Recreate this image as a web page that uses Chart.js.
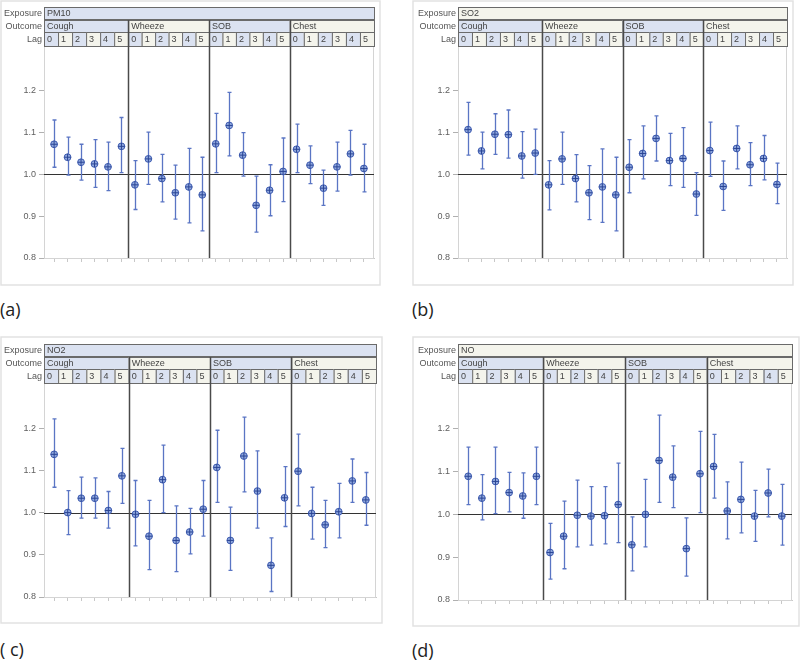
<!DOCTYPE html>
<html>
<head>
<meta charset="utf-8">
<script src="https://cdn.jsdelivr.net/npm/chart.js@4.4.1/dist/chart.umd.min.js"></script>
<style>
  body { margin: 0; background: #fff; width: 800px; height: 663px; position: relative; overflow: hidden; }
  canvas { position: absolute; }
  .lbl { position: absolute; font-family: "Open Sans", sans-serif; font-size: 18px; color: #222; }
</style>
</head>
<body>
<canvas id="pa" width="384" height="290" style="left:0;top:0"></canvas>
<canvas id="pb" width="392" height="290" style="left:410px;top:0"></canvas>
<canvas id="pc" width="384" height="292" style="left:0;top:336px"></canvas>
<canvas id="pd" width="392" height="294" style="left:410px;top:336px"></canvas>
<div class="lbl" style="left:0;top:297px">(a)</div>
<div class="lbl" style="left:412px;top:297px">(b)</div>
<div class="lbl" style="left:0;top:637px">( c)</div>
<div class="lbl" style="left:412px;top:638px">(d)</div>
<script>
var exposures = ['PM10', 'SO2', 'NO2', 'NO'];
var outcomes = ['Cough', 'Wheeze', 'SOB', 'Chest'];
var lagLabels = ['0', '1', '2', '3', '4', '5'];
var yTicks = [0.8, 0.9, 1.0, 1.1, 1.2];

// odds ratio estimates and 95% CI, order: Cough lag0-5, Wheeze lag0-5, SOB lag0-5, Chest lag0-5
var pm10Est = [1.072, 1.041, 1.029, 1.025, 1.018, 1.067, 0.975, 1.037, 0.990, 0.956, 0.970, 0.951, 1.073, 1.117, 1.046, 0.926, 0.962, 1.007, 1.060, 1.022, 0.967, 1.018, 1.049, 1.014];
var pm10Lo  = [1.017, 0.998, 0.986, 0.969, 0.961, 1.004, 0.916, 0.976, 0.934, 0.893, 0.884, 0.865, 1.004, 1.044, 0.996, 0.862, 0.901, 0.935, 1.004, 0.978, 0.926, 0.960, 0.998, 0.958];
var pm10Hi  = [1.130, 1.089, 1.072, 1.083, 1.077, 1.136, 1.033, 1.101, 1.048, 1.022, 1.062, 1.041, 1.146, 1.196, 1.100, 0.996, 1.023, 1.087, 1.120, 1.068, 1.010, 1.077, 1.105, 1.072];

var so2Est = [1.107, 1.056, 1.096, 1.095, 1.044, 1.051, 0.975, 1.037, 0.990, 0.956, 0.970, 0.951, 1.017, 1.050, 1.086, 1.033, 1.038, 0.953, 1.057, 0.971, 1.062, 1.023, 1.038, 0.976];
var so2Lo  = [1.046, 1.013, 1.048, 1.039, 0.991, 1.000, 0.915, 0.976, 0.934, 0.892, 0.885, 0.865, 0.956, 0.989, 1.032, 0.973, 0.969, 0.902, 0.995, 0.914, 1.013, 0.973, 0.987, 0.930];
var so2Hi  = [1.172, 1.101, 1.145, 1.154, 1.102, 1.108, 1.033, 1.101, 1.047, 1.021, 1.061, 1.041, 1.083, 1.116, 1.140, 1.098, 1.112, 1.004, 1.125, 1.032, 1.116, 1.076, 1.093, 1.027];

var no2Est = [1.138, 1.000, 1.034, 1.034, 1.005, 1.087, 0.996, 0.944, 1.078, 0.934, 0.954, 1.008, 1.107, 0.934, 1.134, 1.051, 0.875, 1.035, 1.098, 0.998, 0.971, 1.002, 1.075, 1.030];
var no2Lo  = [1.060, 0.948, 0.987, 0.987, 0.963, 1.022, 0.921, 0.865, 1.000, 0.860, 0.902, 0.944, 1.024, 0.863, 1.049, 0.963, 0.813, 0.967, 1.016, 0.937, 0.917, 0.940, 1.024, 0.970];
var no2Hi  = [1.222, 1.052, 1.084, 1.082, 1.050, 1.152, 1.076, 1.029, 1.160, 1.016, 1.010, 1.076, 1.195, 1.013, 1.226, 1.146, 0.940, 1.109, 1.186, 1.060, 1.029, 1.069, 1.127, 1.095];

var noEst = [1.089, 1.038, 1.077, 1.051, 1.043, 1.089, 0.911, 0.949, 0.998, 0.996, 0.997, 1.023, 0.929, 1.000, 1.126, 1.087, 0.920, 1.095, 1.112, 1.008, 1.035, 0.996, 1.050, 0.996];
var noLo  = [1.023, 0.987, 1.002, 1.006, 0.991, 1.023, 0.849, 0.873, 0.924, 0.928, 0.931, 0.934, 0.868, 0.924, 1.028, 1.016, 0.856, 1.004, 1.038, 0.943, 0.957, 0.937, 0.994, 0.928];
var noHi  = [1.157, 1.093, 1.157, 1.098, 1.097, 1.157, 0.979, 1.031, 1.080, 1.065, 1.065, 1.120, 0.994, 1.082, 1.232, 1.160, 0.992, 1.194, 1.187, 1.076, 1.122, 1.056, 1.106, 1.070];

var BLUE = '#dbe2f1';
var CREAM = '#f4f4ec';
var hdrFont = '9px "Liberation Sans", Arial, sans-serif';

var decor = {
	id: 'decor',
	beforeDatasetsDraw: function(chart, args, o) {
		var ctx = chart.ctx, a = chart.chartArea, x = chart.scales.x, y = chart.scales.y;
		ctx.save();
		// plot frame
		ctx.strokeStyle = '#d4d4d4';
		ctx.lineWidth = 1;
		ctx.strokeRect(a.left + 0.5, a.top + 0.5, a.right - a.left - 1, a.bottom - a.top);
		// reference line at 1.0
		var y1 = Math.round(y.getPixelForValue(1.0)) + 0.5;
		ctx.strokeStyle = '#333';
		ctx.lineWidth = 1.2;
		ctx.beginPath();
		ctx.moveTo(a.left, y1);
		ctx.lineTo(a.right, y1);
		ctx.stroke();
		// confidence intervals
		ctx.strokeStyle = '#5a75c4';
		ctx.lineWidth = 1.3;
		for (var i = 0; i < o.lo.length; i++) {
			var px = Math.round(x.getPixelForValue(i)) + 0.5;
			var pl = y.getPixelForValue(o.lo[i]);
			var ph = y.getPixelForValue(o.hi[i]);
			ctx.beginPath();
			ctx.moveTo(px, pl); ctx.lineTo(px, ph);
			ctx.moveTo(px - 2, pl); ctx.lineTo(px + 2, pl);
			ctx.moveTo(px - 2, ph); ctx.lineTo(px + 2, ph);
			ctx.stroke();
		}
		ctx.restore();
	},
	afterDraw: function(chart, args, o) {
		var ctx = chart.ctx, a = chart.chartArea, x = chart.scales.x;
		var edges = [a.left, x.getPixelForValue(5.5), x.getPixelForValue(11.5), x.getPixelForValue(17.5), a.right];
		ctx.save();
		// outer panel border
		ctx.strokeStyle = '#e2e2e2';
		ctx.lineWidth = 1.5;
		ctx.strokeRect(o.box[0], o.box[1], o.box[2] - o.box[0], o.box[3] - o.box[1]);

		ctx.font = hdrFont;
		ctx.textBaseline = 'middle';
		ctx.lineWidth = 1;
		ctx.strokeStyle = '#6a6a6a';
		function cell(x0, y0, x1, y1, fill, text) {
			ctx.fillStyle = fill;
			ctx.fillRect(x0, y0, x1 - x0, y1 - y0);
			ctx.strokeRect(x0 + 0.5, y0 + 0.5, x1 - x0, y1 - y0);
			ctx.fillStyle = '#444';
			ctx.textAlign = 'left';
			ctx.fillText(text, x0 + 3, (y0 + y1) / 2 + 1);
		}
		var rows = [[a.top - 39, a.top - 27], [a.top - 26, a.top - 14], [a.top - 14, a.top]];
		// exposure row
		cell(a.left, rows[0][0], a.right, rows[0][1], o.expBlue ? BLUE : CREAM, o.exposure);
		// outcome and lag rows
		for (var s = 0; s < 4; s++) {
			cell(edges[s], rows[1][0], edges[s + 1], rows[1][1], s % 2 === 0 ? BLUE : CREAM, outcomes[s]);
			var w = (edges[s + 1] - edges[s]) / 6;
			for (var k = 0; k < 6; k++) {
				cell(edges[s] + k * w, rows[2][0], edges[s] + (k + 1) * w, rows[2][1], k % 2 === 0 ? BLUE : CREAM, lagLabels[k]);
			}
		}
		// row titles
		ctx.fillStyle = '#555';
		ctx.textAlign = 'right';
		ctx.fillText('Exposure', a.left - 2, (rows[0][0] + rows[0][1]) / 2 + 1);
		ctx.fillText('Outcome', a.left - 2, (rows[1][0] + rows[1][1]) / 2 + 1);
		ctx.fillText('Lag', a.left - 2, (rows[2][0] + rows[2][1]) / 2 + 1);
		// outcome dividers
		ctx.strokeStyle = '#4a4a4a';
		ctx.lineWidth = 1.5;
		for (var d = 1; d < 4; d++) {
			var dx = Math.round(edges[d]) + 0.5;
			ctx.beginPath();
			ctx.moveTo(dx, rows[1][0]);
			ctx.lineTo(dx, a.bottom);
			ctx.stroke();
		}
		ctx.restore();
	}
};

function makePanel(id, exposure, expBlue, est, lo, hi, geo) {
	var canvas = document.getElementById(id);
	var pts = est.map(function(v, i) { return { x: i, y: v }; });
	return new Chart(canvas, {
		type: 'scatter',
		data: {
			datasets: [
				{
					data: pts,
					order: 1,
					pointStyle: 'circle',
					pointRadius: 3.4,
					backgroundColor: '#90a8de',
					borderColor: '#3f5cb0',
					borderWidth: 1
				},
				{
					data: pts,
					order: 0,
					pointStyle: 'cross',
					pointRadius: 3.4,
					borderColor: '#2a4595',
					borderWidth: 1
				}
			]
		},
		options: {
			responsive: false,
			animation: false,
			events: [],
			layout: { padding: { left: 0, top: geo.t, right: canvas.width - geo.r, bottom: canvas.height - geo.b - 6 } },
			plugins: {
				legend: { display: false },
				tooltip: { enabled: false },
				decor: { exposure: exposure, expBlue: expBlue, lo: lo, hi: hi, box: geo.box }
			},
			scales: {
				x: {
					type: 'linear',
					min: -0.75,
					max: 23.75,
					afterBuildTicks: function(scale) {
						scale.ticks = est.map(function(v, i) { return { value: i }; });
					},
					afterFit: function(scale) { scale.height = 6; },
					ticks: { callback: function() { return ''; } },
					grid: { drawOnChartArea: false, tickLength: 4, color: '#c8c8c8' },
					border: { color: '#c8c8c8' }
				},
				y: {
					min: 0.8,
					max: 1.307,
					afterBuildTicks: function(scale) {
						scale.ticks = yTicks.map(function(v) { return { value: v }; });
					},
					afterFit: function(scale) { scale.width = geo.l; },
					ticks: {
						padding: 3,
						color: '#606060',
						font: { family: '"Liberation Sans", Arial, sans-serif', size: 9 },
						callback: function(v) { return Number(v).toFixed(1); }
					},
					grid: { drawOnChartArea: false, tickLength: 5, color: '#b0b0b0' },
					border: { color: '#c8c8c8' }
				}
			}
		},
		plugins: [decor]
	});
}

makePanel('pa', exposures[0], true, pm10Est, pm10Lo, pm10Hi, { l: 44, r: 374, t: 46, b: 258, box: [1, 1, 380, 285] });
makePanel('pb', exposures[1], false, so2Est, so2Lo, so2Hi, { l: 48, r: 377, t: 46, b: 258, box: [3, 1, 383, 285] });
makePanel('pc', exposures[2], true, no2Est, no2Lo, no2Hi, { l: 44, r: 376, t: 47, b: 261, box: [1, 1, 382, 287] });
makePanel('pd', exposures[3], false, noEst, noLo, noHi, { l: 48, r: 382, t: 47, b: 264, box: [3, 1, 389, 290] });
</script>
</body>
</html>
